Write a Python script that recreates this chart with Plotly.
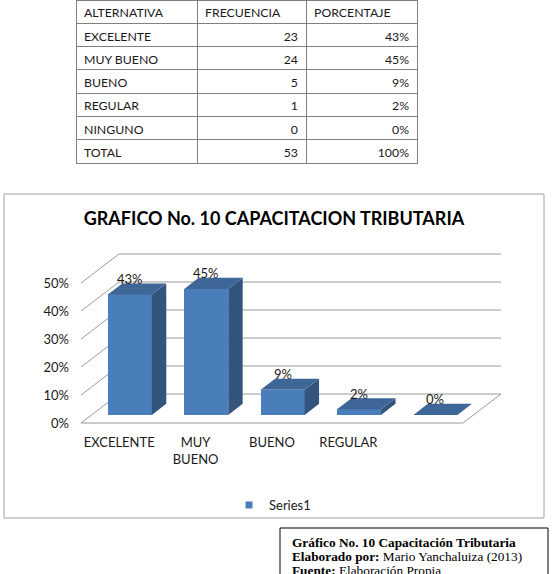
import plotly.graph_objects as go

W, H = 556, 574

# ---------------- data ----------------
alternatives = ["EXCELENTE", "MUY BUENO", "BUENO", "REGULAR", "NINGUNO"]
frequencies = [23, 24, 5, 1, 0]
percentages = [43, 45, 9, 2, 0]
total_label = "TOTAL"
total_frequency = 53
total_percentage = 100
axis_labels = ["EXCELENTE", "MUY<br>BUENO", "BUENO", "REGULAR", ""]
y_ticks = [0, 10, 20, 30, 40, 50]
series_name = "Series1"
chart_title = "GRAFICO No. 10 CAPACITACION TRIBUTARIA"
table_header = ["ALTERNATIVA", "FRECUENCIA", "PORCENTAJE"]
caption_lines = [
    "<b>Gráfico No. 10 Capacitación Tributaria</b>",
    "<b>Elaborado por:</b> Mario Yanchaluiza (2013)",
    "<b>Fuente:</b> Elaboración Propia",
]

# ---------------- styling / geometry ----------------
FRONT = "#4A7EBB"
TOP = "#3E6696"
SIDE = "#33547D"
GRID = "#9A9A9A"
TXT = "#1a1a1a"
FONT = "Lato"

X0, CAT = 119.2, 76.4      # pixel of category 0 (front plane), pixels per category
Y0, PPU = 423.0, 2.8       # pixel of 0% (front plane), pixels per percent
DX, DY = 38 / CAT, 29 / PPU  # full depth vector in data units
F0, F1 = 0.28, 0.66        # bar depth span
BW = 44 / CAT              # bar width
n = len(percentages)


def fx(p):
    return p / W


def fy(p):
    return 1 - p / H


fig = go.Figure()

# ---- table ----
col1 = alternatives + [total_label]
col2 = [str(v) for v in frequencies] + [str(total_frequency)]
col3 = [f"{v}%" for v in percentages] + [f"{total_percentage}%"]
fig.add_trace(go.Table(
    domain=dict(x=[fx(76), fx(417)], y=[fy(164), 1]),
    columnwidth=[121, 109, 111],
    header=dict(values=table_header, align="left", height=23.3,
                line=dict(color="#808080", width=1), fill=dict(color="white"),
                font=dict(family=FONT, size=12.3, color=TXT)),
    cells=dict(values=[col1, col2, col3], align=["left", "right", "right"], height=23.3,
               line=dict(color="#808080", width=1), fill=dict(color="white"),
               font=dict(family=FONT, size=12.3, color=TXT)),
))

# ---- grid (walls) as shapes below the bars ----
shapes = []
shapes.append(dict(type="rect", xref="paper", yref="paper", x0=fx(4), x1=fx(544), y0=fy(518), y1=fy(194),
                   line=dict(color="#A0A0A0", width=1), fillcolor="rgba(0,0,0,0)", layer="below"))
xl, xr = -0.5, n - 0.5
for t in y_ticks:
    shapes.append(dict(type="line", xref="x", yref="y", x0=xl, y0=t, x1=xl + DX, y1=t + DY,
                       line=dict(color=GRID, width=1), layer="below"))
    shapes.append(dict(type="line", xref="x", yref="y", x0=xl + DX, y0=t + DY, x1=xr + DX, y1=t + DY,
                       line=dict(color=GRID, width=1), layer="below"))
shapes.append(dict(type="line", xref="x", yref="y", x0=xl, y0=0, x1=xr, y1=0,
                   line=dict(color=GRID, width=1), layer="below"))
shapes.append(dict(type="line", xref="x", yref="y", x0=xr, y0=0, x1=xr + DX, y1=DY,
                   line=dict(color=GRID, width=1), layer="below"))

# caption box
shapes.append(dict(type="rect", xref="paper", yref="paper", x0=fx(280), x1=fx(548), y0=fy(600), y1=fy(528),
                   line=dict(color="black", width=1), fillcolor="white", layer="above"))

# ---- bars: front faces ----
xs = [i + F0 * DX for i in range(n)]
base = F0 * DY
fig.add_trace(go.Bar(x=xs, y=percentages, base=base, width=BW, marker=dict(color=FRONT, line=dict(width=0)),
                     name=series_name, showlegend=False, hoverinfo="skip"))

# ---- top and side faces ----
ddx, ddy = (F1 - F0) * DX, (F1 - F0) * DY
for i, v in enumerate(percentages):
    l, r = xs[i] - BW / 2, xs[i] + BW / 2
    b, tp = base, base + v
    if v > 0:
        fig.add_trace(go.Scatter(x=[r, r, r + ddx, r + ddx, r], y=[b, tp, tp + ddy, b + ddy, b],
                                 mode="lines", fill="toself", fillcolor=SIDE, line=dict(width=0, color=SIDE),
                                 showlegend=False, hoverinfo="skip"))
    fig.add_trace(go.Scatter(x=[l, r, r + ddx, l + ddx, l], y=[tp, tp, tp + ddy, tp + ddy, tp],
                             mode="lines", fill="toself", fillcolor=TOP, line=dict(width=0, color=TOP),
                             showlegend=False, hoverinfo="skip"))

# legend entry
fig.add_trace(go.Scatter(x=[None], y=[None], mode="markers", name=series_name,
                         marker=dict(symbol="square", size=7, color=FRONT)))

annotations = []
for i, v in enumerate(percentages):
    annotations.append(dict(x=xs[i], y=base + v, xref="x", yref="y", text=f"{v}%", showarrow=False,
                            yshift=15.5, yanchor="middle", xanchor="center",
                            font=dict(family=FONT, size=13, color=TXT)))

cap_y = [542, 556.5, 570.5]
for line, yc in zip(caption_lines, cap_y):
    annotations.append(dict(x=fx(290), y=fy(yc), xref="paper", yref="paper", text=line, showarrow=False,
                            xanchor="left", yanchor="middle",
                            font=dict(family="Liberation Serif", size=13.3, color="black")))

fig.update_layout(
    width=W, height=H, autosize=False,
    margin=dict(l=0, r=0, t=0, b=0, pad=0),
    paper_bgcolor="white", plot_bgcolor="white",
    title=dict(text=f"<b>{chart_title}</b>", x=fx(274), xanchor="center", y=fy(219), yanchor="middle",
               xref="paper", yref="paper", font=dict(family=FONT, size=18, color="black")),
    xaxis=dict(range=[-X0 / CAT, (W - X0) / CAT], domain=[0, 1], anchor="free", position=fy(423),
               tickvals=list(range(n)), ticktext=axis_labels, showgrid=False, zeroline=False,
               showline=False, ticks="", automargin=False, ticklabelstandoff=10,
               tickfont=dict(family=FONT, size=13, color=TXT), fixedrange=True),
    yaxis=dict(range=[(Y0 - H) / PPU, Y0 / PPU], domain=[0, 1], anchor="free", position=fx(81),
               tickvals=y_ticks, ticktext=[f"{t}%" for t in y_ticks], showgrid=False, zeroline=False,
               showline=False, ticks="", automargin=False, ticklabelstandoff=12,
               tickfont=dict(family=FONT, size=13, color=TXT), fixedrange=True),
    showlegend=True,
    legend=dict(orientation="h", x=fx(229), y=fy(505), xanchor="left", yanchor="middle",
                bgcolor="rgba(0,0,0,0)", font=dict(family=FONT, size=13, color=TXT)),
    shapes=shapes,
    annotations=annotations,
    bargap=0,
)

fig.write_html("out.html")
